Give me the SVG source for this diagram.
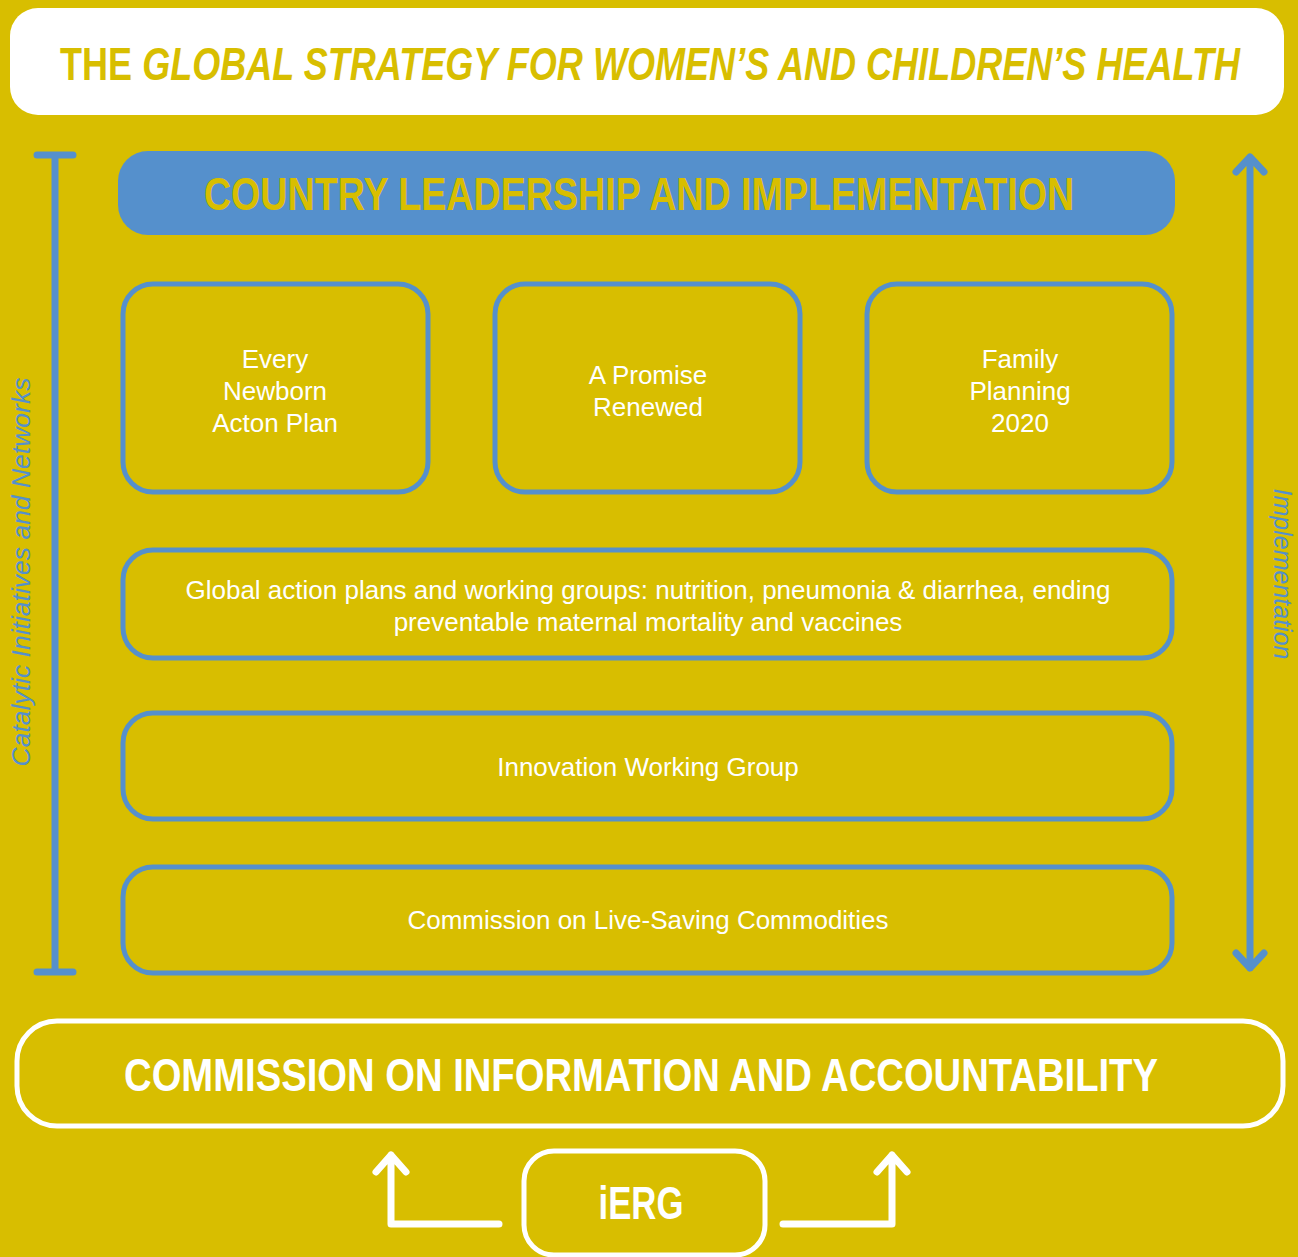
<svg xmlns="http://www.w3.org/2000/svg" width="1298" height="1257" viewBox="0 0 1298 1257">
<style>
.bg{fill:#D8BE00}
.box{fill:none;stroke:#5590CC;stroke-width:5}
.wbox{fill:none;stroke:#FFFFFF;stroke-width:5}
.t{font-family:"Liberation Sans",Arial,sans-serif;fill:#FFFFFF;font-size:26px;text-anchor:middle}
.big{font-family:"Liberation Sans",Arial,sans-serif;font-weight:bold;font-size:46px}
.side{font-family:"Liberation Sans",Arial,sans-serif;font-style:italic;fill:#5590CC;text-anchor:middle}
.blue{fill:none;stroke:#5590CC;stroke-width:7;stroke-linecap:round;stroke-linejoin:round}
.white{fill:none;stroke:#FFFFFF;stroke-width:7;stroke-linecap:round;stroke-linejoin:round}
</style>
<rect class="bg" x="0" y="0" width="1298" height="1257"/>
<g id="title">
<rect x="10" y="8" width="1274" height="107" rx="28" fill="#FFFFFF"/>
<text class="big" x="0" y="0" fill="#D8BE00" transform="translate(60,80) scale(0.784,1)">THE <tspan font-style="italic">GLOBAL STRATEGY FOR WOMEN’S AND CHILDREN’S HEALTH</tspan></text>
</g>
<g id="left-bar">
<path class="blue" d="M55 155V972M37 155H73M37 972H73"/>
<text class="side" font-size="26.5" transform="translate(30,572) rotate(-90)">Catalytic Initiatives and Networks</text>
</g>
<g id="right-arrow">
<path class="blue" d="M1250 157V968M1236 172L1250 157L1264 172M1236 953L1250 968L1264 953"/>
<text class="side" font-size="25" transform="translate(1274,574) rotate(90)">Implementation</text>
</g>
<g id="country">
<rect x="118" y="151" width="1057" height="84" rx="30" fill="#5590CC"/>
<text class="big" x="0" y="0" fill="#D8BE00" text-anchor="middle" transform="translate(639,210) scale(0.818,1)">COUNTRY LEADERSHIP AND IMPLEMENTATION</text>
</g>
<g id="every-newborn">
<rect class="box" x="123" y="284" width="305" height="208" rx="30"/>
<text class="t" x="275" y="368">Every</text>
<text class="t" x="275" y="400">Newborn</text>
<text class="t" x="275" y="432">Acton Plan</text>
</g>
<g id="promise-renewed">
<rect class="box" x="495" y="284" width="305" height="208" rx="30"/>
<text class="t" x="648" y="384">A Promise</text>
<text class="t" x="648" y="416">Renewed</text>
</g>
<g id="family-planning">
<rect class="box" x="867" y="284" width="305" height="208" rx="30"/>
<text class="t" x="1020" y="368">Family</text>
<text class="t" x="1020" y="400">Planning</text>
<text class="t" x="1020" y="432">2020</text>
</g>
<g id="global-action">
<rect class="box" x="123" y="550" width="1049" height="108" rx="30"/>
<text class="t" x="648" y="599">Global action plans and working groups: nutrition, pneumonia &amp; diarrhea, ending</text>
<text class="t" x="648" y="631">preventable maternal mortality and vaccines</text>
</g>
<g id="innovation">
<rect class="box" x="123" y="713" width="1049" height="106" rx="30"/>
<text class="t" x="648" y="776">Innovation Working Group</text>
</g>
<g id="commodities">
<rect class="box" x="123" y="867" width="1049" height="106" rx="30"/>
<text class="t" x="648" y="929">Commission on Live-Saving Commodities</text>
</g>
<g id="coia">
<rect class="wbox" x="17" y="1021" width="1266" height="105" rx="40"/>
<text class="big" x="0" y="0" fill="#FFFFFF" text-anchor="middle" transform="translate(641,1091) scale(0.831,1)">COMMISSION ON INFORMATION AND ACCOUNTABILITY</text>
</g>
<g id="ierg">
<rect class="wbox" x="524" y="1151" width="241" height="104" rx="30"/>
<text class="big" x="0" y="0" fill="#FFFFFF" text-anchor="middle" transform="translate(641,1219) scale(0.756,1)">iERG</text>
</g>
<g id="connectors">
<path class="white" d="M499 1224H391V1155M376 1172L391 1155L406 1172"/>
<path class="white" d="M783 1224H892V1155M877 1172L892 1155L907 1172"/>
</g>
</svg>
